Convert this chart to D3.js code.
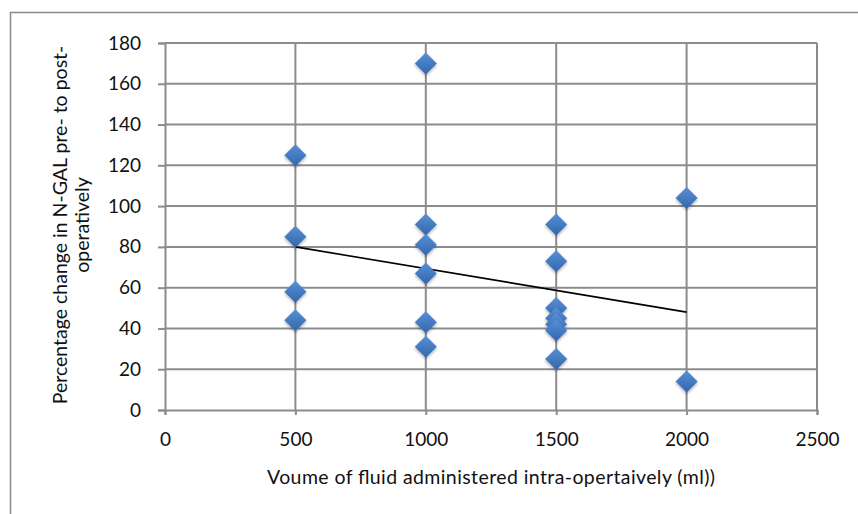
<!DOCTYPE html>
<html>
<head>
<meta charset="utf-8">
<script src="https://cdn.jsdelivr.net/npm/d3@7"></script>
<style>
  body { margin: 0; background: #fff; }
  text { font-family: Lato, "Open Sans", sans-serif; fill: #111; }
</style>
</head>
<body>
<div id="vis"></div>
<script>
// data
var volume = [500, 500, 500, 500,
              1000, 1000, 1000, 1000, 1000, 1000,
              1500, 1500, 1500, 1500, 1500, 1500, 1500,
              2000, 2000];
var ngalChange = [125, 85, 58, 44,
                  170, 91, 81, 67, 43, 31,
                  91, 73, 50, 45, 42, 39, 25,
                  104, 14];
var trendX = [500, 2000];
var trendY = [80, 48];
var xTicks = [0, 500, 1000, 1500, 2000, 2500];
var yTicks = [0, 20, 40, 60, 80, 100, 120, 140, 160, 180];

var w = 858, h = 514;
var pLeft = 165, pRight = 817, pTop = 43, pBottom = 410;

var svg = d3.select("#vis").append("svg")
    .attr("width", w)
    .attr("height", h);

var defs = svg.append("defs");
var grad = defs.append("linearGradient").attr("id", "dia")
    .attr("x1", 0).attr("y1", 0).attr("x2", 0).attr("y2", 1);
grad.append("stop").attr("offset", "0%").attr("stop-color", "#5790d6");
grad.append("stop").attr("offset", "100%").attr("stop-color", "#3366ad");
var f = defs.append("filter").attr("id", "shadow")
    .attr("x", "-50%").attr("y", "-50%").attr("width", "200%").attr("height", "200%");
f.append("feDropShadow").attr("dx", 0).attr("dy", 1.5).attr("stdDeviation", 1.5)
    .attr("flood-color", "#000").attr("flood-opacity", 0.35);

// outer frame (cut off at right and bottom)
svg.append("path")
    .attr("d", "M10.5," + h + "V12.5H" + w)
    .attr("fill", "none")
    .attr("stroke", "#8a8a8a")
    .attr("stroke-width", 1.5);

var x = d3.scaleLinear().domain([0, 2500]).range([pLeft, pRight]);
var y = d3.scaleLinear().domain([0, 180]).range([pBottom, pTop]);

var grid = svg.append("g");
// horizontal gridlines
grid.selectAll("line.h")
    .data(yTicks.filter(function(d) { return d > 0; }))
    .enter().append("line")
    .attr("x1", pLeft).attr("x2", pRight)
    .attr("y1", function(d) { return y(d); })
    .attr("y2", function(d) { return y(d); })
    .attr("stroke", "#8c8c8c").attr("stroke-width", 2);
// vertical gridlines
grid.selectAll("line.v")
    .data(xTicks.filter(function(d) { return d > 0; }))
    .enter().append("line")
    .attr("y1", pTop).attr("y2", pBottom)
    .attr("x1", function(d) { return x(d); })
    .attr("x2", function(d) { return x(d); })
    .attr("stroke", "#8c8c8c").attr("stroke-width", 2);

// axes
var xAxis = svg.append("g")
    .attr("transform", "translate(0," + pBottom + ")")
    .call(d3.axisBottom(x).tickValues(xTicks).tickFormat(d3.format("d")).tickSize(5).tickPadding(18));
var yAxis = svg.append("g")
    .attr("transform", "translate(" + pLeft + ",0)")
    .call(d3.axisLeft(y).tickValues(yTicks).tickFormat(d3.format("d")).tickSize(7).tickPadding(17));
[xAxis, yAxis].forEach(function(a) {
    a.attr("font-size", null).attr("font-family", null);
    a.select(".domain").attr("stroke", "#8c8c8c").attr("stroke-width", 2);
    a.selectAll(".tick line").attr("stroke", "#8c8c8c").attr("stroke-width", 2);
    a.selectAll(".tick text")
        .attr("font-size", "19px")
        .attr("fill", "#111");
});

// trendline
svg.append("line")
    .attr("x1", x(trendX[0])).attr("y1", y(trendY[0]))
    .attr("x2", x(trendX[1])).attr("y2", y(trendY[1]))
    .attr("stroke", "#000").attr("stroke-width", 1.6);

// diamonds
var s = 11;
svg.selectAll("path.pt")
    .data(volume.map(function(v, i) { return [v, ngalChange[i]]; }))
    .enter().append("path")
    .attr("class", "pt")
    .attr("d", "M0," + (-s) + "L" + s + ",0L0," + s + "L" + (-s) + ",0Z")
    .attr("transform", function(d) { return "translate(" + x(d[0]) + "," + y(d[1]) + ")"; })
    .attr("fill", "url(#dia)")
    .attr("filter", "url(#shadow)");

// axis titles
svg.append("text")
    .attr("x", 491).attr("y", 484)
    .attr("text-anchor", "middle")
    .attr("font-size", "19.5px")
    .attr("textLength", 448)
    .text("Voume of fluid administered intra-opertaively (ml))");

var yt = svg.append("text")
    .attr("transform", "translate(67,225) rotate(-90)")
    .attr("text-anchor", "middle")
    .attr("font-size", "19.5px");
yt.append("tspan").attr("x", 0).attr("dy", 0).text("Percentage change in N-GAL pre- to post-");
yt.append("tspan").attr("x", 0).attr("dy", "22px").text("operatively");
</script>
</body>
</html>
